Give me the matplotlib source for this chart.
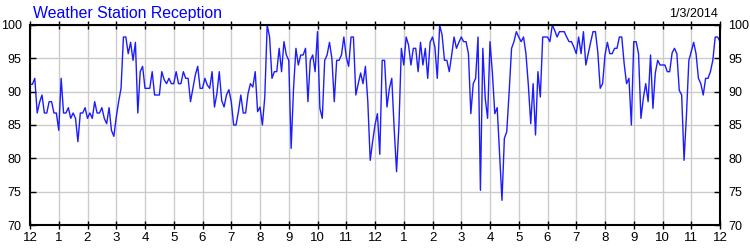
import numpy as np
import matplotlib
matplotlib.use('Agg')
import matplotlib.pyplot as plt

# reception %, one reading every 5 minutes
# 12am - 6am
night = [91.1, 91.1, 92.0, 86.8, 88.4, 89.5, 86.8, 86.8, 88.5, 88.5, 86.8, 86.8,
         84.2, 92.0, 86.8, 86.8, 87.6, 86.0, 86.8, 86.0, 82.5, 86.8, 86.8, 87.6,
         86.0, 86.8, 86.0, 88.5, 86.8, 86.8, 87.6, 86.0, 85.2, 87.6, 84.2, 83.3,
         86.2, 88.5, 90.5, 98.2, 98.2, 95.7, 97.4, 94.7, 97.4, 86.8, 93.0, 93.8,
         90.5, 90.5, 90.5, 93.0, 89.5, 89.5, 89.5, 93.0, 91.8, 91.2, 92.0, 91.2,
         91.2, 93.0, 91.2, 91.2, 93.0, 92.0, 92.0, 88.5, 90.5, 92.5, 93.8, 90.5]
# 6am - 12pm
morning = [90.5, 92.0, 91.0, 90.5, 93.0, 87.7, 89.7, 93.0, 88.7, 87.7, 89.5, 90.3,
           88.5, 85.0, 85.0, 87.0, 89.5, 86.8, 86.8, 89.7, 91.2, 90.7, 93.0, 87.0,
           87.7, 85.0, 89.2, 100.0, 98.2, 92.0, 93.0, 93.0, 96.5, 93.0, 97.5, 95.5,
           94.7, 81.5, 90.5, 96.5, 94.0, 95.5, 95.5, 96.5, 88.5, 94.7, 95.5, 93.0,
           99.0, 87.5, 86.0, 94.7, 95.5, 97.4, 95.0, 88.5, 94.7, 94.7, 95.5, 98.2,
           95.2, 93.8, 98.2, 98.2, 89.5, 91.2, 92.8, 91.2, 93.8, 88.5, 79.7, 82.5]
# 12pm - 6pm
afternoon = [85.0, 86.7, 80.6, 94.7, 94.7, 87.7, 90.5, 92.0, 84.5, 78.0, 85.0, 96.5,
             94.0, 98.2, 97.0, 94.0, 96.5, 96.5, 93.0, 97.4, 94.0, 96.5, 92.0, 97.4,
             98.2, 96.7, 92.0, 100.0, 98.5, 94.7, 94.7, 93.0, 95.5, 98.2, 96.5, 97.4,
             98.2, 97.5, 97.5, 95.7, 86.7, 91.2, 92.0, 98.2, 75.2, 96.5, 89.0, 86.0,
             97.5, 92.8, 86.7, 87.6, 80.5, 73.7, 83.0, 84.0, 90.0, 96.5, 97.5, 99.0,
             98.2, 97.5, 98.2, 95.7, 91.0, 85.2, 91.2, 83.5, 93.0, 89.2, 98.2, 98.2]
# 6pm - 12am
evening = [98.2, 97.5, 100.0, 99.2, 98.2, 99.0, 99.0, 99.0, 98.2, 97.5, 97.5, 96.7,
           95.7, 98.2, 95.7, 99.0, 94.0, 95.7, 97.4, 99.0, 99.0, 95.9, 90.5, 91.2,
           95.5, 97.4, 95.7, 95.7, 96.5, 96.5, 98.2, 98.2, 94.2, 91.2, 92.0, 85.0,
           97.5, 97.5, 95.7, 86.0, 89.0, 91.2, 88.5, 95.5, 87.5, 92.8, 94.7, 94.0,
           94.0, 94.0, 93.0, 93.0, 95.8, 96.5, 95.7, 90.2, 89.5, 79.7, 86.5, 94.7,
           96.0, 97.4, 95.7, 92.0, 91.2, 89.5, 92.0, 92.0, 93.0, 94.7, 98.2, 98.2,
           97.5]

hour_labels = ['12', '1', '2', '3', '4', '5', '6', '7', '8', '9', '10', '11'] * 2 + ['12']
y_ticks = [70, 75, 80, 85, 90, 95, 100]
title = 'Weather Station Reception'
date_text = '1/3/2014'

values = np.array(night + morning + afternoon + evening)
hours = np.arange(len(values)) / 12.0

plt.rcParams['font.family'] = ['Liberation Sans', 'DejaVu Sans']

fig = plt.figure(figsize=(7.5, 2.5), dpi=100)
ax = fig.add_axes([0.04, 0.1, 0.92, 0.8])

ax.plot(hours, values, color='#1c1cff', lw=1.0)

ax.set_xlim(0, 24)
ax.set_ylim(70, 100)
ax.set_xticks(np.arange(25))
ax.set_xticklabels(hour_labels)
ax.set_yticks(y_ticks)
ax.grid(True, color='#cccccc', lw=1.0)
ax.set_axisbelow(True)

for s in ax.spines.values():
    s.set_linewidth(1.5)
    s.set_color('black')

ax.tick_params(axis='x', which='both', bottom=True, top=True, direction='inout',
               length=6, width=1, labelsize=9.5, pad=2, colors='black')
ax.tick_params(axis='y', which='both', left=True, right=True, labelleft=True,
               labelright=True, direction='in', length=4, width=1,
               labelsize=9, pad=6, colors='black')

fig.text(33 / 750, 1 - 18 / 250, title, color='blue', fontsize=11.4,
         ha='left', va='baseline')
fig.text(718 / 750, 1 - 17 / 250, date_text, color='black', fontsize=9,
         ha='right', va='baseline')

fig.savefig('out.png', dpi=100)
